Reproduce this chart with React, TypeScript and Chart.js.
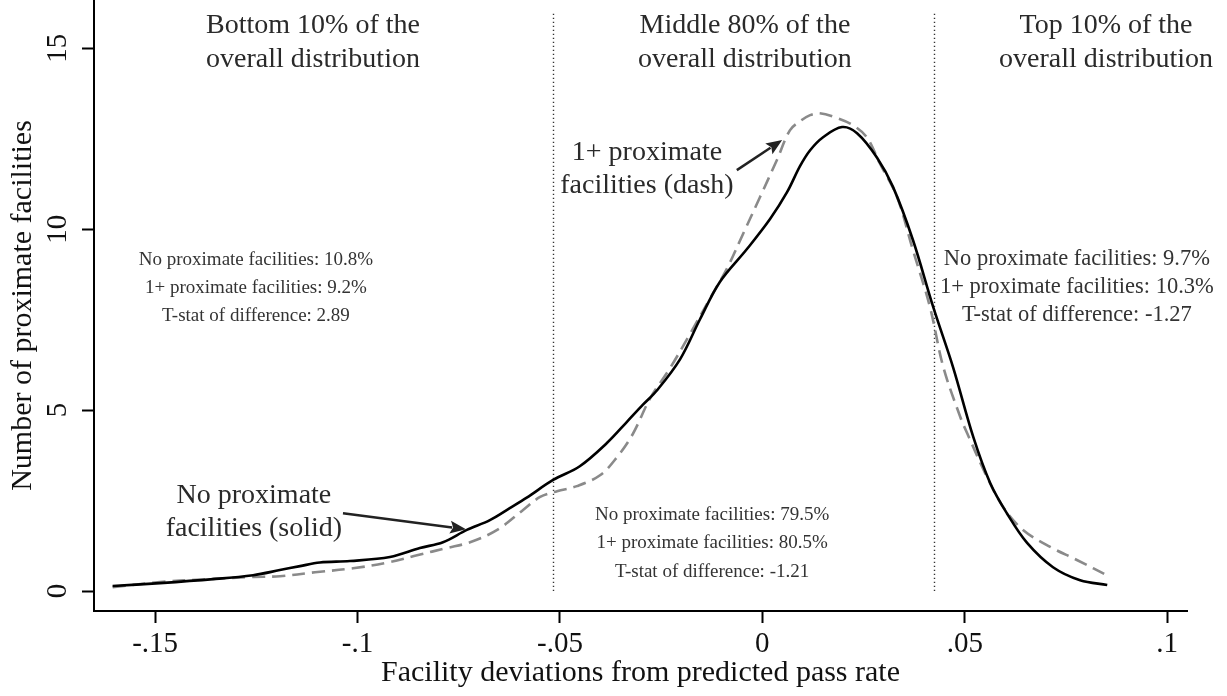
import React, { useEffect, useRef } from "react";
import { Chart, registerables } from "chart.js";

Chart.register(...registerables);

const FONT = "'Liberation Serif', 'Times New Roman', serif";

// Axis ticks
const xTicks = [-0.15, -0.1, -0.05, 0, 0.05, 0.1];
const xTickLabels = ["-.15", "-.1", "-.05", "0", ".05", ".1"];
const yTicks = [0, 5, 10, 15];

// Solid line: no proximate facilities
const solidX = [-0.1605, -0.1488, -0.1357, -0.1258, -0.1192, -0.1142, -0.1093, -0.1019, -0.092, -0.0846, -0.0789, -0.073, -0.0673, -0.0624, -0.0582, -0.0517, -0.0451, -0.0384, -0.0335, -0.0295, -0.026, -0.0203, -0.0154, -0.0105, -0.0038, 0.0019, 0.0061, 0.0093, 0.0118, 0.015, 0.0197, 0.0234, 0.0283, 0.0323, 0.0372, 0.0422, 0.0471, 0.0521, 0.0563, 0.0604, 0.0654, 0.0718, 0.0785, 0.0852];
const solidY = [0.14, 0.22, 0.33, 0.44, 0.58, 0.69, 0.79, 0.83, 0.94, 1.19, 1.35, 1.69, 1.96, 2.29, 2.58, 3.07, 3.45, 4.09, 4.67, 5.15, 5.55, 6.41, 7.51, 8.54, 9.45, 10.28, 11.02, 11.74, 12.18, 12.54, 12.82, 12.65, 11.98, 11.16, 9.7, 7.85, 6.19, 4.26, 2.98, 2.15, 1.33, 0.66, 0.3, 0.17];

// Dashed line: 1+ proximate facilities
const dashX = [-0.1605, -0.1488, -0.1372, -0.1258, -0.1192, -0.1105, -0.1011, -0.092, -0.0853, -0.0779, -0.0722, -0.0655, -0.0591, -0.0549, -0.0507, -0.0458, -0.0401, -0.0359, -0.032, -0.0277, -0.0228, -0.0179, -0.0129, -0.0087, -0.0048, -0.0006, 0.0036, 0.0068, 0.0093, 0.0118, 0.0142, 0.0184, 0.0224, 0.0258, 0.029, 0.0333, 0.0372, 0.0414, 0.0447, 0.0489, 0.0506, 0.0555, 0.0595, 0.0644, 0.0711, 0.0777, 0.0859];
const dashY = [0.11, 0.25, 0.33, 0.39, 0.41, 0.52, 0.63, 0.8, 0.99, 1.19, 1.35, 1.69, 2.24, 2.6, 2.76, 2.9, 3.2, 3.7, 4.34, 5.33, 6.16, 7.1, 8.09, 8.92, 9.86, 10.88, 11.91, 12.73, 12.98, 13.15, 13.2, 13.07, 12.87, 12.54, 11.82, 10.88, 9.42, 7.85, 6.19, 4.81, 4.36, 3.15, 2.32, 1.69, 1.22, 0.86, 0.39];

// Distribution cutoffs (dotted lines)
const cutoffs = [-0.0517, 0.0424];
const cutoffTop = 15.95;

// Header texts
const headerX = [-0.111, -0.0043, 0.0849];
const headerBaseY = [15.41, 14.48];
const headerLines = [
  ["Bottom 10% of the", "overall distribution"],
  ["Middle 80% of the", "overall distribution"],
  ["Top 10% of the", "overall distribution"],
];

// Statistics texts
const statX = [-0.1251, -0.0124, 0.0777];
const statBaseY = [
  [9.01, 8.23, 7.46],
  [1.96, 1.19, 0.39],
  [9.01, 8.23, 7.46],
];
const statLines = [
  ["No proximate facilities: 10.8%", "1+ proximate facilities: 9.2%", "T-stat of difference: 2.89"],
  ["No proximate facilities: 79.5%", "1+ proximate facilities: 80.5%", "T-stat of difference: -1.21"],
  ["No proximate facilities: 9.7%", "1+ proximate facilities: 10.3%", "T-stat of difference: -1.27"],
];

// Arrow labels
const labelX = [-0.0285, -0.1256];
const labelBaseY = [
  [11.91, 10.99],
  [2.43, 1.52],
];
const labelLines = [
  ["1+ proximate", "facilities (dash)"],
  ["No proximate", "facilities (solid)"],
];
const arrowFrom = [
  [-0.0063, 11.63],
  [-0.1036, 2.15],
];
const arrowTo = [
  [0.0049, 12.46],
  [-0.0732, 1.71],
];

// text sizes for the three statistics blocks
const STAT_FONT_SIZES = [19, 19, 22.5];

const annotPlugin = {
  id: "annot",
  beforeDatasetsDraw(chart: any) {
    const { ctx, scales } = chart;
    const x = scales.x;
    const y = scales.y;
    ctx.save();
    ctx.strokeStyle = "#333";
    ctx.lineWidth = 1.4;
    ctx.setLineDash([1.4, 2.6]);
    for (const v of cutoffs) {
      const px = Math.round(x.getPixelForValue(v)) + 0.5;
      ctx.beginPath();
      ctx.moveTo(px, y.getPixelForValue(0));
      ctx.lineTo(px, y.getPixelForValue(cutoffTop));
      ctx.stroke();
    }
    ctx.restore();
  },
  afterDatasetsDraw(chart: any) {
    const { ctx, scales } = chart;
    const x = scales.x;
    const y = scales.y;
    ctx.save();
    ctx.textAlign = "center";
    ctx.textBaseline = "alphabetic";
    // headers
    ctx.fillStyle = "#2a2a2a";
    ctx.font = `28px ${FONT}`;
    headerLines.forEach((lines, i) => {
      lines.forEach((t, j) => {
        ctx.fillText(t, x.getPixelForValue(headerX[i]), y.getPixelForValue(headerBaseY[j]));
      });
    });
    // stats
    ctx.fillStyle = "#333";
    statLines.forEach((lines, i) => {
      ctx.font = `${STAT_FONT_SIZES[i]}px ${FONT}`;
      lines.forEach((t, j) => {
        ctx.fillText(t, x.getPixelForValue(statX[i]), y.getPixelForValue(statBaseY[i][j]));
      });
    });
    // arrow labels
    ctx.font = `28px ${FONT}`;
    ctx.fillStyle = "#2a2a2a";
    labelLines.forEach((lines, i) => {
      lines.forEach((t, j) => {
        ctx.fillText(t, x.getPixelForValue(labelX[i]), y.getPixelForValue(labelBaseY[i][j]));
      });
    });
    // arrows
    ctx.strokeStyle = "#222";
    ctx.fillStyle = "#222";
    ctx.lineWidth = 2.5;
    arrowFrom.forEach((f, i) => {
      const x0 = x.getPixelForValue(f[0]);
      const y0 = y.getPixelForValue(f[1]);
      const x1 = x.getPixelForValue(arrowTo[i][0]);
      const y1 = y.getPixelForValue(arrowTo[i][1]);
      const ang = Math.atan2(y1 - y0, x1 - x0);
      const hl = 16;
      const hw = 6.5;
      const bx = x1 - hl * Math.cos(ang);
      const by = y1 - hl * Math.sin(ang);
      ctx.beginPath();
      ctx.moveTo(x0, y0);
      ctx.lineTo(bx + 2 * Math.cos(ang), by + 2 * Math.sin(ang));
      ctx.stroke();
      ctx.beginPath();
      ctx.moveTo(x1, y1);
      ctx.lineTo(bx - hw * Math.sin(ang), by + hw * Math.cos(ang));
      ctx.lineTo(bx + 3 * Math.cos(ang), by + 3 * Math.sin(ang));
      ctx.lineTo(bx + hw * Math.sin(ang), by - hw * Math.cos(ang));
      ctx.closePath();
      ctx.fill();
    });
    ctx.restore();
  },
};

export default function App() {
  const canvasRef = useRef<HTMLCanvasElement | null>(null);

  useEffect(() => {
    const canvas = canvasRef.current;
    if (!canvas) return;
    const chart = new Chart(canvas, {
      type: "line",
      data: {
        datasets: [
          {
            label: "No proximate facilities",
            data: solidX.map((v, i) => ({ x: v, y: solidY[i] })),
            borderColor: "#000",
            borderWidth: 2.6,
            pointRadius: 0,
            tension: 0.35,
            fill: false,
          },
          {
            label: "1+ proximate facilities",
            data: dashX.map((v, i) => ({ x: v, y: dashY[i] })),
            borderColor: "#8a8a8a",
            borderWidth: 2.6,
            borderDash: [13, 7],
            pointRadius: 0,
            tension: 0.35,
            fill: false,
          },
        ],
      },
      options: {
        animation: false,
        responsive: true,
        maintainAspectRatio: false,
        layout: { padding: { top: 0, right: 40, left: 0, bottom: 0 } },
        plugins: {
          legend: { display: false },
          tooltip: { enabled: false },
        },
        scales: {
          x: {
            type: "linear",
            min: -0.1651,
            max: 0.1049,
            afterBuildTicks: (s: any) => {
              s.ticks = xTicks.map((v) => ({ value: v }));
            },
            afterFit: (s: any) => {
              s.height = 85;
              s.paddingLeft = 0;
              s.paddingRight = 0;
            },
            ticks: {
              autoSkip: false,
              maxRotation: 0,
              minRotation: 0,
              padding: 4,
              color: "#111",
              font: { family: FONT, size: 29 },
              callback: (_v: any, i: number) => xTickLabels[i],
            },
            grid: {
              display: true,
              drawOnChartArea: false,
              drawTicks: true,
              tickLength: 12,
              tickColor: "#000",
              tickWidth: 2,
            },
            border: { display: true, color: "#000", width: 2 },
            title: {
              display: true,
              text: "Facility deviations from predicted pass rate",
              color: "#111",
              font: { family: FONT, size: 30 },
              padding: { top: 0, bottom: 5 },
            },
          },
          y: {
            type: "linear",
            min: -0.55,
            max: 16.33,
            afterBuildTicks: (s: any) => {
              s.ticks = yTicks.map((v) => ({ value: v }));
            },
            afterFit: (s: any) => {
              s.width = 94;
              s.paddingTop = 0;
              s.paddingBottom = 0;
            },
            ticks: {
              autoSkip: false,
              minRotation: 90,
              maxRotation: 90,
              crossAlign: "center",
              padding: 9,
              color: "#111",
              font: { family: FONT, size: 29 },
              callback: (v: any) => String(v),
            },
            grid: {
              display: true,
              drawOnChartArea: false,
              drawTicks: true,
              tickLength: 12,
              tickColor: "#000",
              tickWidth: 2,
            },
            border: { display: true, color: "#000", width: 2 },
            title: {
              display: true,
              text: "Number of proximate facilities",
              color: "#111",
              font: { family: FONT, size: 30 },
              padding: { top: 5, bottom: 0 },
            },
          },
        },
      },
      plugins: [annotPlugin],
    } as any);
    return () => chart.destroy();
  }, []);

  return (
    <div style={{ position: "fixed", left: 0, top: 0, width: 1227, height: 696, background: "#fff" }}>
      <canvas ref={canvasRef} />
    </div>
  );
}
